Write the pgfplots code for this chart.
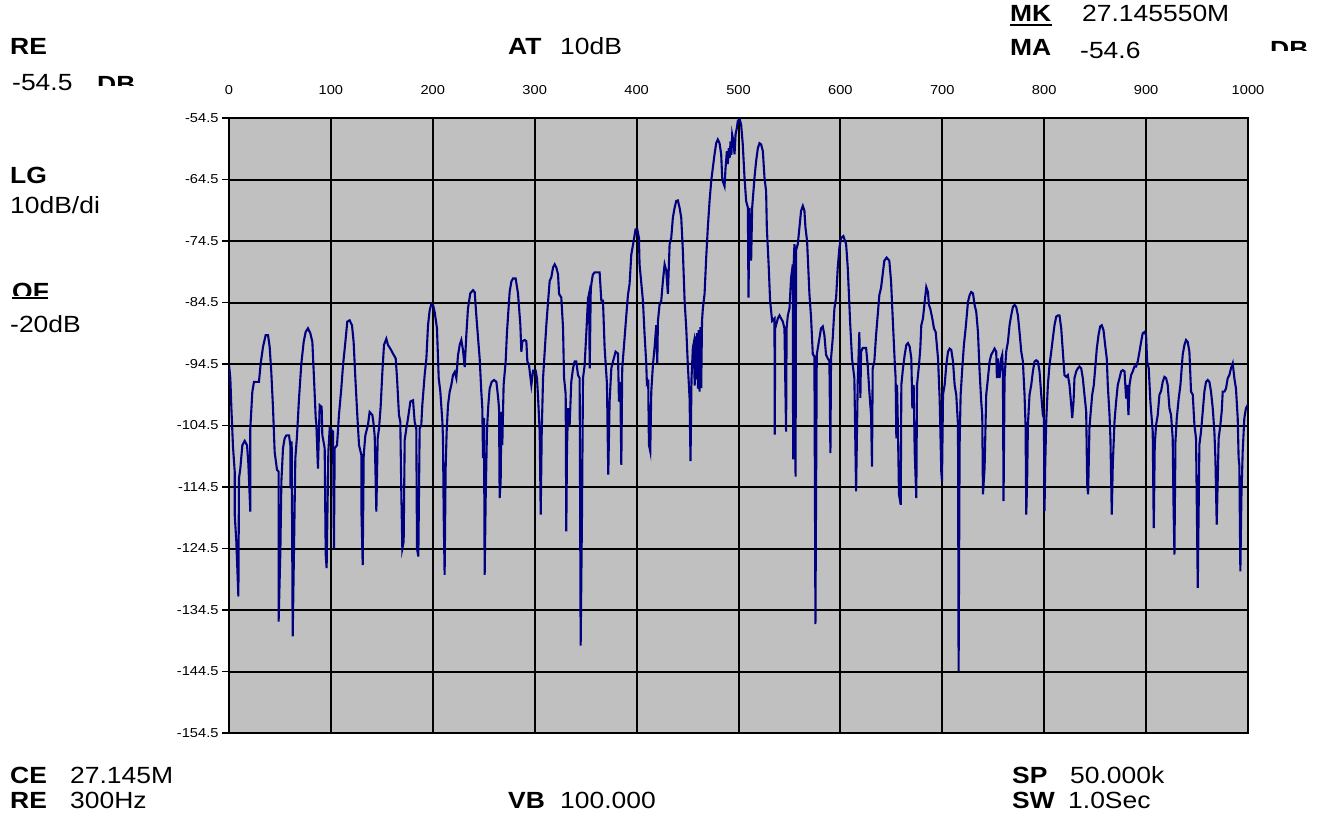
\documentclass[border=0pt]{standalone}
\usepackage{fontspec}
\setmainfont{Liberation Sans}[FakeStretch=1.13]
\usepackage{pgfplots}
\pgfplotsset{compat=1.18}
\definecolor{plotgray}{HTML}{C0C0C0}
\definecolor{trace}{HTML}{000080}
\newcommand{\hd}{\fontsize{23.5}{26}\selectfont}
\begin{document}
\begin{tikzpicture}
\path[use as bounding box] (0,0) rectangle (1322bp,-817bp);
\begin{axis}[
  at={(229bp,-733bp)}, anchor=south west,
  scale only axis, width=1019bp, height=615bp,
  xmin=0, xmax=1000, ymin=-154.5, ymax=-54.5,
  axis background/.style={fill=plotgray},
  xtick={0,100,...,1000},
  xticklabels={0,100,200,300,400,500,600,700,800,900,1000},
  ytick={-154.5,-144.5,-134.5,-124.5,-114.5,-104.5,-94.5,-84.5,-74.5,-64.5,-54.5},
  yticklabels={-154.5,-144.5,-134.5,-124.5,-114.5,-104.5,-94.5,-84.5,-74.5,-64.5,-54.5},
  xticklabel pos=upper, ytick pos=left,
  xtick style={draw=none},
  ytick style={black, line width=1.4bp},
  tick align=outside, major tick length=7bp,
  xticklabel style={yshift=13bp},
  tick label style={font=\fontsize{13}{15}\selectfont},
  grid=major,
  major grid style={black, line width=2bp},
  axis line style={black, line width=2bp},
]
\addplot[trace, line width=2.1bp, sharp plot] coordinates {
(0,-94.6) (1.3,-96.8) (2.3,-101.5) (3.9,-107.9) (5.6,-112.0) (5.6,-119.0) (7.2,-123.4) (9.2,-132.3) (9.8,-113.1) (11.1,-111.5) (13.1,-107.7) (15.4,-107.0) (17.7,-107.7) (19.0,-110.7) (20.9,-118.5) (20.9,-105.0) (22.9,-99.0) (24.5,-97.4) (29.4,-97.4) (31.1,-94.4) (33.4,-91.7) (36.0,-89.8) (38.3,-89.8) (39.9,-91.7) (41.5,-95.8) (43.2,-101.7) (44.8,-108.8) (47.1,-111.7) (48.7,-112.0) (48.7,-136.4) (50.4,-125.0) (51.4,-113.6) (53.0,-108.2) (54.6,-106.6) (56.3,-106.1) (58.9,-106.1) (60.2,-107.7) (60.2,-114.7) (61.5,-107.1) (62.5,-138.8) (63.8,-124.5) (65.1,-109.8) (66.7,-106.3) (68.7,-100.1) (71.0,-94.4) (73.3,-90.9) (75.2,-89.3) (77.5,-88.7) (79.8,-89.5) (81.8,-90.9) (83.4,-96.8) (85.1,-103.3) (85.7,-104.2) (87.3,-111.5) (89.0,-101.2) (90.9,-101.5) (91.6,-106.1) (92.2,-106.6) (93.9,-108.2) (94.9,-125.5) (95.8,-127.7) (97.5,-108.8) (98.8,-105.0) (100.4,-105.2) (102.1,-105.5) (103.0,-124.5) (103.7,-108.2) (106.0,-107.7) (107.9,-102.8) (110.2,-98.5) (111.9,-94.7) (114.2,-90.9) (116.1,-87.6) (118.4,-87.4) (120.7,-88.2) (122.3,-90.9) (124.0,-96.8) (125.9,-102.8) (127.6,-107.7) (129.9,-109.3) (129.9,-118.0) (131.2,-127.2) (132.2,-109.3) (133.8,-106.1) (136.4,-104.4) (138.0,-102.3) (140.7,-102.8) (142.0,-104.4) (143.0,-106.3) (144.6,-118.5) (145.9,-106.6) (147.2,-105.0) (148.8,-101.5) (150.5,-95.8) (152.1,-91.4) (154.4,-90.4) (156.0,-91.4) (158.3,-92.0) (160.9,-92.8) (163.6,-93.6) (164.9,-96.8) (166.8,-102.8) (168.1,-103.9) (169.1,-115.3) (170.1,-124.5) (171.4,-123.4) (172.4,-106.9) (174.0,-105.0) (175.7,-103.3) (178.0,-100.6) (180.6,-100.4) (182.2,-103.9) (183.8,-105.0) (184.5,-124.5) (185.8,-125.8) (187.1,-105.0) (188.7,-104.4) (189.7,-101.2) (192.0,-96.3) (193.7,-93.6) (195.3,-88.2) (196.9,-85.8) (198.6,-84.7) (200.2,-84.9) (201.8,-86.0) (204.1,-88.7) (205.8,-96.8) (207.4,-99.0) (209.4,-103.9) (210.0,-106.6) (210.7,-119.0) (211.6,-128.8) (212.6,-111.5) (213.6,-105.5) (214.9,-101.2) (216.6,-99.0) (218.2,-97.9) (219.8,-96.3) (221.5,-95.8) (223.1,-96.8) (224.7,-93.1) (226.4,-91.4) (228.0,-90.6) (229.6,-92.2) (231.3,-95.0) (232.9,-89.8) (234.5,-85.5) (236.8,-83.0) (239.5,-82.5) (241.1,-82.8) (242.7,-86.6) (244.7,-90.9) (246.0,-93.6) (247.6,-99.0) (248.6,-101.7) (249.3,-109.8) (250.2,-103.3) (250.9,-128.8) (251.9,-116.3) (253.2,-105.0) (254.5,-101.2) (255.8,-98.5) (257.8,-97.4) (260.1,-97.1) (262.4,-97.4) (264.0,-99.8) (265.0,-101.7) (265.6,-116.3) (266.6,-113.6) (267.3,-102.3) (268.2,-107.7) (269.5,-97.9) (271.5,-94.1) (272.8,-89.3) (275.4,-82.8) (277.1,-81.1) (278.7,-80.6) (281.3,-80.6) (283.6,-83.0) (285.9,-88.1) (286.9,-92.5) (287.9,-90.8) (290.2,-90.6) (291.8,-90.8) (292.8,-94.1) (294.4,-94.6) (295.1,-95.7) (296.7,-97.9)
(298.4,-95.6) (301.0,-95.6) (302.3,-96.9) (303.3,-99.9) (304.9,-105.5) (305.9,-119.0) (306.9,-105.5) (308.2,-96.8) (309.8,-92.5) (311.4,-88.2) (313.1,-84.4) (314.7,-81.0) (316.3,-80.4) (318.0,-78.8) (319.6,-78.3) (321.2,-78.8) (322.9,-79.9) (323.9,-83.1) (326.1,-83.7) (327.8,-88.6) (328.8,-96.7) (330.4,-99.4) (331.0,-121.7) (331.7,-108.2) (332.7,-101.7) (334.3,-104.4) (335.9,-97.4) (337.6,-95.2) (339.2,-94.1) (340.8,-94.1) (342.5,-96.3) (344.1,-96.8) (345.1,-140.3) (346.4,-119.0) (347.4,-96.8) (349.0,-94.7) (350.7,-89.3) (352.3,-83.9) (353.3,-83.1) (354.0,-95.2) (355.0,-82.5) (355.6,-81.5) (357.0,-80.0) (358.8,-79.6) (361.0,-79.6) (363.7,-79.6) (365.4,-84.2) (367.0,-84.2) (368.6,-91.8) (370.9,-97.7) (372.2,-112.5) (373.5,-100.6) (375.2,-95.2) (376.8,-94.1) (379.4,-92.5) (381.7,-92.8) (382.7,-100.6) (384.0,-97.4) (385.0,-110.9) (385.9,-95.2) (388.2,-90.3) (389.9,-86.6) (391.5,-83.3) (393.1,-81.5) (394.8,-76.7) (397.1,-74.5) (399.0,-72.6) (400.7,-72.6) (402.3,-74.0) (402.9,-78.3) (406.2,-84.2) (407.8,-89.6) (409.5,-94.5) (410.1,-97.7) (411.4,-97.4) (412.1,-107.6) (413.4,-108.7) (414.4,-99.0) (416.0,-94.7) (417.6,-91.9) (419.3,-88.2) (420.3,-94.4) (420.9,-87.6) (422.5,-84.9) (424.2,-84.2) (425.8,-81.0) (427.5,-78.3) (429.1,-79.3) (430.7,-83.1) (432.4,-75.0) (434.0,-74.0) (435.6,-70.7) (437.3,-69.1) (438.9,-68.0) (440.5,-67.9) (442.2,-69.1) (443.8,-70.7) (445.4,-76.1) (447.1,-84.2) (448.7,-88.6) (450.3,-94.7) (452.0,-100.1) (452.9,-110.3) (453.9,-96.8) (455.2,-91.9) (456.2,-91.0) (457.0,-98.0) (457.5,-90.0) (458.5,-97.0) (459.3,-89.5) (460.2,-98.5) (461.0,-89.0) (461.8,-99.0) (462.6,-88.5) (463.4,-98.4) (464.2,-87.5) (465.0,-85.5) (466.7,-83.1) (468.3,-77.2) (469.9,-72.3) (471.6,-68.0) (473.2,-64.8) (474.8,-62.6) (476.5,-60.4) (478.1,-58.6) (479.7,-58.0) (481.4,-58.6) (483.0,-60.4) (484.0,-64.2) (484.6,-64.8) (486.3,-65.6) (487.3,-62.6) (488.6,-59.9) (489.5,-62.0) (490.5,-59.4) (491.3,-61.0) (492.2,-58.3) (493.0,-60.5) (493.8,-57.2) (495.1,-58.3) (496.1,-60.4) (497.1,-57.2) (498.4,-56.1) (499.3,-55.0) (501.0,-54.6) (502.6,-55.6) (504.2,-58.8) (505.9,-64.2) (507.5,-68.0) (509.2,-69.1) (509.8,-83.7) (510.8,-69.1) (512.4,-77.7) (513.4,-69.1) (515.7,-64.2) (517.3,-61.5) (519.0,-59.4) (520.6,-58.6) (522.2,-58.8) (523.9,-59.9) (525.5,-64.2) (527.1,-66.4) (527.8,-72.3) (529.7,-78.8) (531.0,-84.2) (533.0,-87.5) (535.3,-87.1) (535.6,-106.0) (536.0,-88.7) (538.6,-87.1) (540.2,-86.6) (541.8,-87.1) (543.5,-87.6) (545.1,-88.7) (546.7,-105.5) (547.2,-88.7) (548.4,-86.6) (550.0,-85.5) (551.6,-80.5) (553.3,-78.3) (553.6,-110.0) (554.2,-78.0) (554.9,-75.0) (556.0,-112.8) (556.5,-76.0) (558.2,-75.0) (559.8,-72.3) (561.4,-69.6) (563.1,-68.8) (564.7,-69.6) (565.7,-72.3) (567.3,-74.5) (569.6,-83.1) (571.2,-86.9) (572.9,-92.9) (574.5,-93.3) (575.5,-136.8) (576.8,-93.0) (579.4,-90.3) (581.0,-88.7) (582.7,-88.4) (584.3,-89.8) (585.9,-93.0) (587.6,-93.6) (589.2,-94.0) (590.2,-109.0) (590.8,-93.6) (592.5,-90.3) (594.1,-85.5) (595.8,-83.7) (597.4,-78.8) (599.0,-75.6) (600.7,-74.0) (602.9,-73.7) (605.6,-75.0) (607.2,-78.8) (608.8,-84.8) (609.5,-87.6) (611.4,-93.6) (613.7,-96.8) (615.4,-115.2) (617.0,-97.4) (618.6,-89.3) (619.6,-100.0) (620.3,-92.5) (621.9,-91.9) (625.2,-91.9) (626.8,-94.7) (628.4,-99.0) (630.1,-102.8) (631.0,-111.2) (631.7,-95.2) (633.3,-94.1) (635.0,-89.8) (636.6,-86.6) (638.2,-83.3) (639.9,-82.1) (641.5,-79.9) (643.1,-77.7) (645.4,-77.2) (648.0,-77.7) (649.7,-81.0) (651.3,-86.9)
(653.3,-94.1) (654.2,-96.8) (654.9,-106.6) (655.6,-97.9) (656.5,-105.5) (657.5,-115.7) (659.2,-117.4) (659.8,-97.9) (661.4,-95.2) (663.1,-93.0) (664.7,-91.4) (666.3,-91.1) (668.0,-91.7) (669.6,-93.6) (670.6,-101.7) (671.9,-97.9) (672.9,-108.7) (674.5,-116.3) (675.2,-97.9) (677.1,-94.7) (678.4,-92.0) (679.4,-88.2) (681.0,-87.1) (682.7,-84.4) (684.3,-82.0) (685.9,-82.8) (686.9,-84.9) (688.2,-85.5) (690.2,-87.1) (691.8,-88.7) (693.5,-89.3) (695.8,-93.6) (697.4,-100.1) (699.0,-112.0) (699.7,-113.6) (700.7,-99.5) (702.3,-97.9) (703.9,-94.7) (705.6,-92.5) (707.2,-92.0) (708.8,-92.2) (710.5,-94.1) (712.1,-97.9) (713.7,-99.5) (715.4,-104.4) (716.0,-144.4) (717.0,-107.6) (718.0,-99.5) (719.6,-95.2) (721.2,-91.4) (722.9,-88.7) (725.2,-84.4) (726.8,-83.3) (728.4,-82.8) (730.1,-83.0) (731.7,-84.9) (733.3,-86.0) (735.0,-89.3) (736.6,-95.7) (738.2,-100.6) (739.2,-102.8) (739.9,-115.7) (741.5,-111.4) (743.1,-99.5) (744.8,-96.8) (746.4,-94.1) (748.0,-93.0) (749.7,-92.5) (751.3,-92.0) (752.9,-92.5) (753.6,-96.8) (754.6,-93.6) (756.2,-96.8) (757.8,-93.6) (758.8,-93.0) (759.5,-96.3) (760.1,-116.8) (761.1,-96.8) (762.7,-92.5) (764.4,-90.9) (766.0,-88.2) (767.6,-86.6) (769.3,-85.2) (770.9,-84.9) (772.5,-85.2) (774.2,-86.6) (775.8,-89.3) (777.5,-92.5) (779.1,-94.1) (780.7,-99.5) (781.7,-104.4) (782.4,-119.0) (783.3,-113.0) (784.0,-104.4) (785.6,-99.5) (787.3,-97.9) (788.9,-95.7) (790.5,-94.1) (792.2,-93.9) (793.8,-94.1) (795.4,-95.7) (797.1,-99.5) (798.7,-102.8) (799.7,-103.3) (800.3,-118.4) (801.0,-110.9) (802.0,-103.8) (803.6,-97.9) (805.2,-94.7) (806.9,-92.5) (808.5,-90.3) (810.1,-88.2) (811.8,-86.8) (813.4,-86.6) (815.0,-86.6) (816.7,-88.7) (818.3,-92.5) (819.9,-96.3) (821.6,-96.6) (823.2,-96.3) (824.8,-97.9) (826.5,-101.1) (827.5,-103.3) (828.8,-100.6) (829.7,-96.8) (831.4,-95.7) (833.0,-95.2) (834.6,-94.9) (836.3,-95.2) (837.9,-96.8) (839.5,-99.5) (841.2,-102.2) (842.2,-114.1) (843.1,-115.7) (844.4,-104.9) (845.4,-102.8) (847.1,-99.5) (848.7,-97.9) (850.3,-94.7) (851.6,-92.0) (853.3,-89.8) (854.9,-88.4) (856.5,-88.2) (858.2,-89.0) (859.8,-91.4) (861.4,-93.6) (862.4,-97.9) (864.1,-102.8) (865.0,-106.6) (866.3,-119.0) (867.3,-110.9) (869.0,-103.8) (870.6,-100.6) (872.2,-97.9) (873.9,-96.8) (875.5,-95.7) (877.1,-95.5) (878.8,-95.7) (880.4,-100.1) (881.4,-97.9) (882.7,-102.8) (883.7,-97.9) (885.3,-96.3) (886.9,-95.7) (888.6,-94.9) (890.2,-94.9) (891.8,-94.1) (893.5,-92.5) (895.1,-90.9) (896.7,-89.5) (898.4,-89.3) (900.0,-89.8) (901.0,-94.1) (902.6,-95.2) (904.2,-100.6) (906.5,-105.5) (907.5,-121.2) (908.5,-107.6) (909.8,-104.4) (911.4,-102.8) (913.1,-99.5) (914.7,-98.9) (916.3,-97.4) (918.0,-96.6) (919.6,-96.8) (921.2,-97.9) (922.9,-101.7) (924.5,-102.8) (926.1,-106.6) (926.8,-116.3) (927.8,-125.5) (928.8,-107.1) (930.1,-103.3) (932.0,-100.1) (933.7,-97.9) (935.9,-93.0) (937.6,-91.4) (939.2,-90.6) (940.8,-90.9) (942.5,-92.5) (944.1,-99.0) (945.8,-99.5) (947.4,-104.4) (949.0,-106.6) (950.7,-130.9) (952.3,-107.6) (953.9,-105.5) (955.6,-102.2) (957.2,-99.0) (958.8,-97.4) (960.5,-97.1) (962.1,-97.4) (963.7,-99.0) (965.4,-101.7) (967.0,-105.5) (968.0,-109.8) (969.3,-120.6) (971.2,-106.6) (972.9,-104.4) (974.2,-102.2) (975.2,-99.0) (976.8,-99.0) (978.4,-98.5) (980.1,-96.8) (981.7,-96.3) (983.3,-95.2) (985.0,-94.4) (986.6,-96.8) (988.2,-98.5) (989.9,-103.3) (990.8,-109.8) (991.5,-110.9) (992.5,-128.2) (993.5,-116.3) (994.8,-108.7) (996.4,-103.3) (998.0,-101.7) (1000,-101.1)
};
\end{axis}
% header and footer readouts
\begin{scope}[every node/.style={anchor=base west, inner sep=0pt, font=\hd}]
\node[font=\hd\bfseries] at (10bp,-54bp) {RE};
\node at (12bp,-90bp) {-54.5};
\node[font=\hd\bfseries] at (508bp,-54bp) {AT};
\node at (560bp,-54bp) {10dB};
\node[font=\hd\bfseries] at (1010bp,-21bp) {MK};
\node at (1082bp,-21bp) {27.145550M};
\node[font=\hd\bfseries] at (1010bp,-55bp) {MA};
\node at (1080bp,-58bp) {-54.6};
\node[font=\hd\bfseries] at (10bp,-183bp) {LG};
\node at (10bp,-213bp) {10dB/di};
\node at (10bp,-332bp) {-20dB};
\node[font=\hd\bfseries] at (10bp,-783bp) {CE};
\node at (70bp,-783bp) {27.145M};
\node[font=\hd\bfseries] at (10bp,-808bp) {RE};
\node at (70bp,-808bp) {300Hz};
\node[font=\hd\bfseries] at (508bp,-808bp) {VB};
\node at (560bp,-808bp) {100.000};
\node[font=\hd\bfseries] at (1012bp,-783bp) {SP};
\node at (1070bp,-783bp) {50.000k};
\node[font=\hd\bfseries] at (1012bp,-808bp) {SW};
\node at (1068bp,-808bp) {1.0Sec};
\begin{scope}
\clip (90bp,-60bp) rectangle (150bp,-85bp);
\node[font=\hd\bfseries] at (97bp,-92bp) {DB};
\end{scope}
\begin{scope}
\clip (1260bp,-30bp) rectangle (1322bp,-50bp);
\node[font=\hd\bfseries] at (1270bp,-57bp) {DB};
\end{scope}
\begin{scope}
\clip (0bp,-270bp) rectangle (70bp,-295bp);
\node[font=\hd\bfseries] at (12bp,-299bp) {OF};
\end{scope}
\end{scope}
\draw[line width=2bp] (1010bp,-25bp) -- (1052bp,-25bp);
\draw[line width=2bp] (12bp,-297.5bp) -- (48bp,-297.5bp);
\end{tikzpicture}
\end{document}
